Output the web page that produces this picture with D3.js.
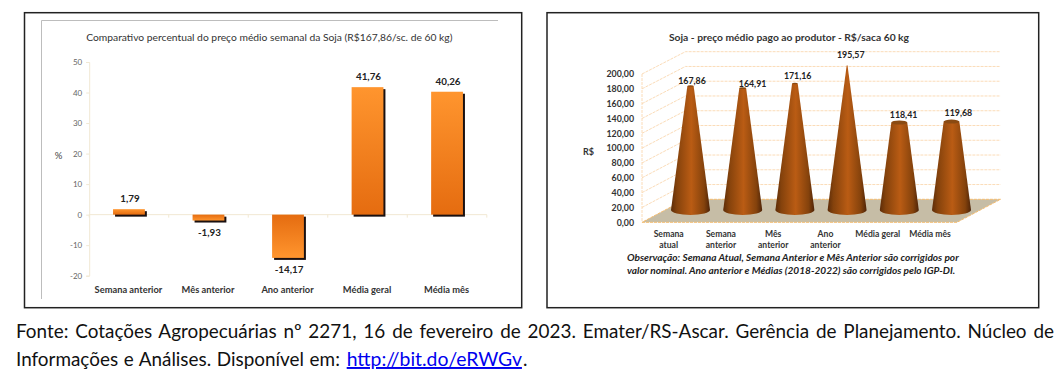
<!DOCTYPE html>
<html><head><meta charset="utf-8">
<script src="https://cdn.jsdelivr.net/npm/d3@7/dist/d3.min.js"></script>
<style>
html,body{margin:0;padding:0;background:#fff;overflow:hidden}
svg{display:block}
text{font-family:Lato,"Open Sans",sans-serif}
</style></head><body>
<svg id="c" width="1064" height="379" viewBox="0 0 1064 379"></svg>
<script>
// ---- data ----
const pctTitle = "Comparativo percentual do preço médio semanal da Soja (R$167,86/sc. de 60 kg)";
const pctCategories = ["Semana anterior","Mês anterior","Ano anterior","Média geral","Média mês"];
const pctValues = [1.79,-1.93,-14.17,41.76,40.26];
const pctTicks = [-20,-10,0,10,20,30,40,50];

const priceTitle = "Soja - preço médio pago ao produtor - R$/saca 60 kg";
const priceCategories = [["Semana","atual"],["Semana","anterior"],["Mês","anterior"],["Ano","anterior"],["Média geral"],["Média mês"]];
const priceValues = [167.86,164.91,171.16,195.57,118.41,119.68];
const priceTicks = [0,20,40,60,80,100,120,140,160,180,200];
const priceNote = ["Observação: Semana Atual, Semana Anterior e Mês Anterior são corrigidos por",
                   "valor nominal. Ano anterior e Médias (2018-2022) são corrigidos pelo IGP-DI."];
const sourceLine1 = "Fonte: Cotações Agropecuárias nº 2271, 16 de fevereiro de 2023. Emater/RS-Ascar. Gerência de Planejamento. Núcleo de";
const sourceLine2 = "Informações e Análises. Disponível em:";
const sourceLink = "http://bit.do/eRWGv";

const fmt = v => v.toFixed(2).replace(".", ",");
const svg = d3.select("#c");
const defs = svg.append("defs");

function linGrad(id, x2, y2, stops){
  const g = defs.append("linearGradient").attr("id",id).attr("x1",0).attr("y1",0).attr("x2",x2).attr("y2",y2);
  stops.forEach(s=>g.append("stop").attr("offset",s[0]).attr("stop-color",s[1]));
}
linGrad("barUp",0,1,[[0,"#ff952e"],[1,"#e56c10"]]);
linGrad("barDown",0,1,[[0,"#e56c10"],[1,"#ff952e"]]);
linGrad("cone",1,0,[[0,"#5c2c08"],[0.15,"#84420c"],[0.52,"#ba5c14"],[0.85,"#84420c"],[1,"#4e2408"]]);

// ---- frames ----
svg.append("rect").attr("x",24.5).attr("y",12.7).attr("width",497.2).attr("height",295).attr("fill","#fff").attr("stroke","#222").attr("stroke-width",1.5);
svg.append("rect").attr("x",547).attr("y",12.7).attr("width",491.7).attr("height",295).attr("fill","#fff").attr("stroke","#222").attr("stroke-width",1.5);
svg.append("path").attr("d","M41.5 299V20.5H498").attr("fill","none").attr("stroke","#bdbdbd").attr("stroke-width",1);

// ---- left chart ----
const L = svg.append("g");
const yL = d3.scaleLinear().domain([-20,50]).range([275.7,62]);
const xL = d3.scaleBand().domain(pctCategories).range([89.2,486.8]).paddingInner(0.6).paddingOuter(0.3);
L.append("text").attr("x",269.3).attr("y",40.5).attr("text-anchor","middle").attr("font-size",10.3).attr("fill","#333").text(pctTitle);
L.append("text").attr("x",58.5).attr("y",158.5).attr("text-anchor","middle").attr("font-size",9.5).attr("fill","#444").text("%");

const axL = L.append("g").attr("transform","translate(89.2,0)").call(d3.axisLeft(yL).tickValues(pctTicks).tickSize(3).tickFormat(d=>d));
axL.selectAll("path,line").attr("stroke","#f1e8d3");
axL.selectAll("text").attr("font-size",8).attr("fill","#666").attr("font-family","Lato,sans-serif").attr("x",-7);
const axLx = L.append("g").attr("transform",`translate(0,${yL(0)})`);
axLx.append("line").attr("x1",89.2).attr("x2",486.8).attr("stroke","#f1e8d3");
axLx.selectAll(".t").data(d3.range(6)).join("line").attr("x1",i=>89.2+i*79.52).attr("x2",i=>89.2+i*79.52).attr("y1",0).attr("y2",3).attr("stroke","#f1e8d3");

const bars = L.selectAll(".bar").data(pctValues).join("g");
bars.append("rect").attr("x",(d,i)=>xL(pctCategories[i])+2).attr("y",d=>Math.min(yL(d),yL(0))+2)
  .attr("width",xL.bandwidth()).attr("height",d=>Math.abs(yL(d)-yL(0))).attr("fill","#1a1010");
bars.append("rect").attr("x",(d,i)=>xL(pctCategories[i])).attr("y",d=>Math.min(yL(d),yL(0)))
  .attr("width",xL.bandwidth()).attr("height",d=>Math.abs(yL(d)-yL(0))).attr("fill",d=>d>=0?"url(#barUp)":"url(#barDown)");
bars.append("text").attr("x",(d,i)=>xL(pctCategories[i])+xL.bandwidth()/2+1)
  .attr("y",d=>d>=0?yL(d)-7:yL(d)+15.5).attr("text-anchor","middle").attr("font-size",9.8).attr("font-weight",700).attr("fill","#222").text(fmt);
L.selectAll(".cat").data(pctCategories).join("text").attr("x",d=>xL(d)+xL.bandwidth()/2-0.5).attr("y",292.5)
  .attr("text-anchor","middle").attr("font-size",9.3).attr("font-weight",700).attr("fill","#333").text(d=>d);

// ---- right chart ----
const R = svg.append("g");
R.append("text").attr("x",789).attr("y",40.5).attr("text-anchor","middle").attr("font-size",10.3).attr("font-weight",700).attr("fill","#333").text(priceTitle);
R.append("text").attr("x",588.5).attr("y",155).attr("text-anchor","middle").attr("font-size",9).attr("font-weight",700).attr("fill","#333").text("R$");

const yFront = d3.scaleLinear().domain([0,200]).range([222.3,74]);
const yBack  = d3.scaleLinear().domain([0,200]).range([199.3,51.7]);
const [fx,bx,ex,bex] = [642,685.4,957,1000.6];
const gridC = "#fbdcb8";
priceTicks.forEach(t=>{
  if(t>0) R.append("path").attr("d",`M${fx} ${yFront(t)}L${bx} ${yBack(t)}L${bex} ${yBack(t)}`).attr("fill","none").attr("stroke",gridC).attr("stroke-width",1).attr("stroke-dasharray","3 1");
});
R.append("line").attr("x1",fx).attr("x2",fx).attr("y1",yFront(200)).attr("y2",yFront(0)).attr("stroke",gridC).attr("stroke-dasharray","3 1");
R.append("polygon").attr("points",`${fx},${yFront(0)} ${ex},${yFront(0)} ${bex},${yBack(0)} ${bx},${yBack(0)}`)
  .attr("fill","#c6bda6").attr("stroke","#f6bd70").attr("stroke-width",1).attr("stroke-dasharray","3 1");

const axR = R.append("g").attr("transform",`translate(${fx},0)`).call(d3.axisLeft(yFront).tickValues(priceTicks).tickSize(0).tickFormat(fmt));
axR.select("path").remove();
axR.selectAll("text").attr("font-size",8.8).attr("font-weight",700).attr("fill","#333").attr("font-family","Lato,sans-serif").attr("x",-8);

const xCone = d3.scalePoint().domain(d3.range(priceValues.length)).range([690.5,951.5]);
const yCone = d3.scaleLinear().domain([0,200]).range([210,62.2]);
const wCone = d3.scaleLinear().domain([0,200]).range([19.5,0]);
const ryRatio = 0.25;
const labelDx = [1.5,9.9,2.8,3.7,4.3,6.9], labelDy = [-5,-4.7,-8,-10.7,-7.6,-8.4];

const cones = R.selectAll(".cone").data(priceValues).join("g");
cones.append("path").attr("d",(d,i)=>{
  const cx=xCone(i), by=yCone(0), tw=wCone(d), ty=yCone(d), bw=wCone(0);
  const p=d3.path();
  p.moveTo(cx-bw,by);
  p.lineTo(cx-tw,ty);
  p.lineTo(cx+tw,ty);
  p.lineTo(cx+bw,by);
  return p.toString()+`A${bw} ${bw*ryRatio} 0 0 1 ${cx-bw} ${by}Z`;
}).attr("fill","url(#cone)");
cones.append("ellipse").attr("cx",(d,i)=>xCone(i)).attr("cy",d=>yCone(d)).attr("rx",d=>wCone(d)).attr("ry",d=>wCone(d)*ryRatio)
  .attr("fill","#8a4a12");
cones.append("text").attr("x",(d,i)=>xCone(i)+labelDx[i]).attr("y",(d,i)=>yCone(d)+labelDy[i]+3.2)
  .attr("text-anchor","middle").attr("font-size",8.8).attr("font-weight",700).attr("fill","#222").text(fmt);

const xCat = d3.scalePoint().domain(d3.range(priceCategories.length)).range([668.7,930]);
const catG = R.selectAll(".pc").data(priceCategories).join("text").attr("text-anchor","middle").attr("font-size",8.6).attr("font-weight",700).attr("fill","#333");
catG.each(function(lines,i){
  d3.select(this).selectAll("tspan").data(lines).join("tspan").attr("x",xCat(i)).attr("y",(l,j)=>237+j*11).text(l=>l);
});
R.selectAll(".note").data(priceNote).join("text").attr("x",627).attr("y",(d,i)=>261.3+i*12.3)
  .attr("font-size",10.1).attr("font-weight",700).attr("font-style","italic").attr("fill","#222").text(d=>d);

// ---- source ----
const S = svg.append("g").attr("font-size",18.9).attr("fill","#111");
const s1 = S.append("text").attr("x",16).attr("y",337.7).text(sourceLine1);
const gaps = sourceLine1.split(" ").length-1;
s1.attr("word-spacing",(1038-s1.node().getComputedTextLength())/gaps);
S.append("text").attr("x",16).attr("y",366).attr("word-spacing",0.8).text(sourceLine2);
const lk = S.append("text").attr("x",346.7).attr("y",366).attr("font-size",19.4).attr("fill","#0000ee").attr("text-decoration","underline").text(sourceLink);
S.append("text").attr("x",346.7+lk.node().getComputedTextLength()+1).attr("y",366).text(".");
</script>
</body></html>
